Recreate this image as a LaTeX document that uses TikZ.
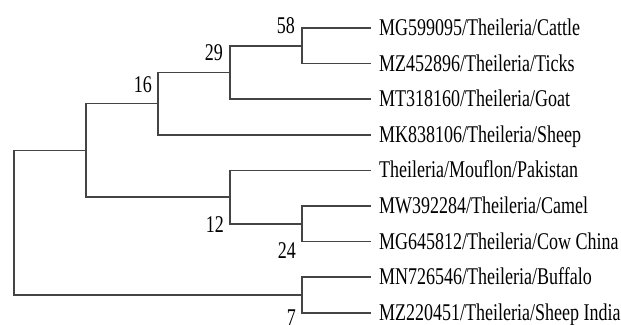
\documentclass[tikz,border=0pt]{standalone}
\usepackage{fontspec}
\newfontfamily\treefont[FakeStretch=0.75]{Liberation Serif}
\definecolor{branch}{RGB}{68,68,68}
\begin{document}
\begin{tikzpicture}[x=1pt,y=-1pt,
  branchline/.style={draw=branch,line width=1.5pt,line cap=rect},
  taxon/.style={anchor=base west,inner sep=0pt,font=\treefont\fontsize{24}{24}\selectfont},
  support/.style={anchor=base east,inner sep=0pt,font=\treefont\fontsize{24}{24}\selectfont}]
\useasboundingbox[fill=white] (0,0) rectangle (621,324);

% leaf tips
\foreach \i/\yy in {1/28,2/63.6,3/99.2,4/134.8,5/170.4,6/206,7/241.6,8/277.2,9/312.8}
  \coordinate (t\i) at (370,\yy);

% taxon labels
\node[taxon] (L1) at (379,35.5)  {MG599095/Theileria/Cattle};
\node[taxon] (L2) at (379,71.1)  {MZ452896/Theileria/Ticks};
\node[taxon] (L3) at (379,106.7) {MT318160/Theileria/Goat};
\node[taxon] (L4) at (379,142.3) {MK838106/Theileria/Sheep};
\node[taxon] (L5) at (379,177.9) {Theileria/Mouflon/Pakistan};
\node[taxon] (L6) at (379,213.5) {MW392284/Theileria/Camel};
\node[taxon] (L7) at (379,249.1) {MG645812/Theileria/Cow China};
\node[taxon] (L8) at (379,284.7) {MN726546/Theileria/Buffalo};
\node[taxon] (L9) at (379,320.3) {MZ220451/Theileria/Sheep India};

% internal nodes
\coordinate (n58)  at (302,45.8);
\coordinate (n29)  at (230,72.5);
\coordinate (n16)  at (158,103.7);
\coordinate (n24)  at (302,223.8);
\coordinate (n12)  at (230,197.1);
\coordinate (nA)   at (86,150.4);
\coordinate (n7)   at (302,295);
\coordinate (root) at (14,222.7);

% branches
\draw[branchline] (n58) |- (t1);
\draw[branchline] (n58) |- (t2);
\draw[branchline] (n29) |- (n58);
\draw[branchline] (n29) |- (t3);
\draw[branchline] (n16) |- (n29);
\draw[branchline] (n16) |- (t4);
\draw[branchline] (n24) |- (t6);
\draw[branchline] (n24) |- (t7);
\draw[branchline] (n12) |- (t5);
\draw[branchline] (n12) |- (n24);
\draw[branchline] (nA) |- (n16);
\draw[branchline] (nA) |- (n12);
\draw[branchline] (n7) |- (t8);
\draw[branchline] (n7) |- (t9);
\draw[branchline] (root) |- (nA);
\draw[branchline] (root) |- (n7);

% bootstrap values
\node[support] (b58) at (295,33)  {58};
\node[support] (b29) at (223,60)  {29};
\node[support] (b16) at (152,92)  {16};
\node[support] (b12) at (224,232) {12};
\node[support] (b24) at (296,258) {24};
\node[support] (b7)  at (296,325) {7};
\end{tikzpicture}
\end{document}
